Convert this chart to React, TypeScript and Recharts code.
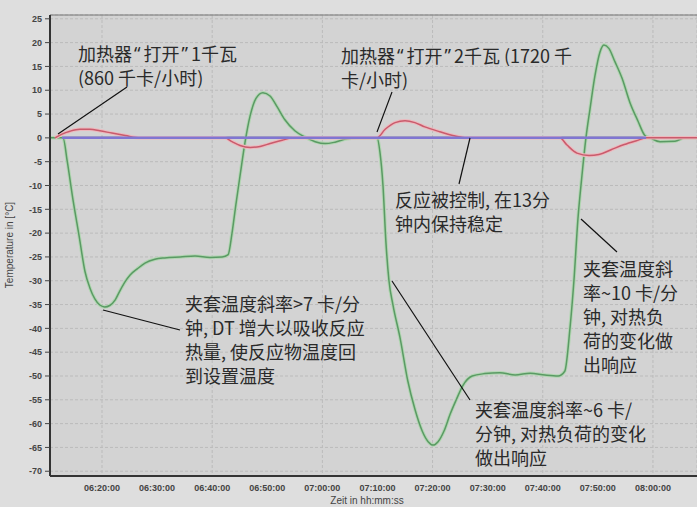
import React from 'react';
import { LineChart, Line, XAxis, YAxis, CartesianGrid, ReferenceLine } from 'recharts';

// time = minutes after 06:00, value = °C
const jacketTemp: [number, number][] = [
  [10.56, 0], [12.92, 0], [13.7, -5], [14.6, -12], [15.9, -21], [16.9, -28],
  [17.8, -31.5], [18.7, -33.8], [19.6, -35.1], [20.5, -35.5], [21.4, -35.2],
  [22.4, -34], [23.3, -32], [24.2, -30.2], [25.1, -28.8], [26.4, -27.5],
  [27.8, -26.3], [29.6, -25.5], [31.4, -25.2], [34.2, -25], [36.9, -24.8],
  [39.6, -25.1], [41.8, -25], [42.9, -24.5], [43.6, -20], [44.3, -14],
  [45.05, -8], [45.95, -1], [46.86, 4.5], [47.95, 8.3], [49.2, 9.5],
  [50.5, 8.8], [51.8, 6.5], [53.2, 3.8], [55.0, 1.5], [56.8, 0.2],
  [58.7, -0.8], [60.5, -1.2], [62.3, -0.9], [64.5, -0.2], [66.8, 0],
  [69.9, 0], [70.45, -3], [71.0, -10], [71.54, -22], [72.09, -30],
  [72.8, -35], [74.1, -42], [75.5, -51], [76.8, -57], [78.1, -61.5],
  [79.2, -63.8], [80.1, -64.5], [81.0, -63.8], [82.1, -61.5], [83.2, -58],
  [84.3, -55], [85.5, -52], [87.2, -50], [89.5, -49.5], [92.2, -49.3],
  [95.0, -49.8], [97.7, -49.4], [100.4, -49.8], [102.8, -50], [104.0, -49],
  [104.94, -40], [105.66, -30], [106.39, -17], [107.11, -8], [107.84, 0],
  [108.57, 6], [109.47, 13], [110.38, 18], [111.1, 19.5], [112.0, 18.8],
  [113.1, 16], [114.4, 12.5], [115.8, 7.5], [117.3, 3.5], [118.55, 0.5],
  [119.5, 0], [121.3, -0.8], [124.0, -0.7], [125.8, 0], [128, 0],
];

const reactorTemp: [number, number][] = [
  [11.47, 0], [12.74, 0.8], [14.19, 1.4], [16.0, 1.8], [17.8, 1.8],
  [19.6, 1.5], [21.8, 1.0], [24.2, 0.5], [26.9, 0], [30.5, 0],
  [42.3, 0], [43.6, -0.8], [45.05, -1.6], [46.9, -2.0], [48.7, -1.8],
  [50.5, -1.2], [52.7, -0.5], [54.7, 0], [69.9, 0], [71.4, 1.8],
  [73.2, 3.2], [75.0, 3.6], [76.8, 3.2], [78.6, 2.3], [81.3, 1.3],
  [84.1, 0.4], [86.2, 0], [103.1, 0], [104.4, -1.5], [106.2, -3.2],
  [108.4, -3.7], [110.2, -3.5], [112.4, -2.5], [114.8, -1.4], [117.0, -0.6],
  [118.8, 0], [128, 0],
];

const setpoint: [number, number][] = [[12.74, 0], [118.77, 0]];

const xTicks = [20, 30, 40, 50, 60, 70, 80, 90, 100, 110, 120];
const yTicks = [25, 20, 15, 10, 5, 0, -5, -10, -15, -20, -25, -30, -35, -40, -45, -50, -55, -60, -65, -70];

const toRows = (pts: [number, number][]) => pts.map(([t, v]) => ({ t, v }));

const fmtTime = (m: number) => {
  const h = 6 + Math.floor(m / 60);
  const mm = m % 60;
  return `${String(h).padStart(2, '0')}:${String(mm).padStart(2, '0')}:00`;
};

const cjk = '"Noto Sans CJK SC", "Noto Sans", sans-serif';

const notes: { x: number; y: number; lines: string[] }[] = [
  { x: 78, y: 53, lines: ['加热器“打开”1千瓦', '(860 千卡/小时)'] },
  { x: 341, y: 55, lines: ['加热器“打开”2千瓦 (1720 千', '卡/小时)'] },
  { x: 395, y: 199, lines: ['反应被控制, 在13分', '钟内保持稳定'] },
  { x: 583, y: 268, lines: ['夹套温度斜', '率~10 卡/分', '钟, 对热负', '荷的变化做', '出响应'] },
  { x: 185, y: 303, lines: ['夹套温度斜率>7 卡/分', '钟, DT 增大以吸收反应', '热量, 使反应物温度回', '到设置温度'] },
  { x: 475, y: 409, lines: ['夹套温度斜率~6 卡/', '分钟, 对热负荷的变化', '做出响应'] },
];

const leaders = [
  [58, 134, 127, 87],
  [377, 132, 392, 92],
  [470, 138, 459, 184],
  [581, 219, 617, 252],
  [103, 310, 180, 330],
  [392, 281, 470, 400],
];

// curly quotes drawn in a Latin font, with a little air around them
const renderLine = (l: string) =>
  l.split(/([“”])/).map((part, k) =>
    part === '“' || part === '”' ? (
      <tspan key={k} fontFamily='"Noto Sans", sans-serif' dx={2} letterSpacing={3}>{part}</tspan>
    ) : (
      part
    )
  );

export default function App() {
  const tickStyle = { fontSize: 9, fontWeight: 700, fill: '#444', fontFamily: 'Arial, sans-serif' };
  return (
    <div style={{ position: 'absolute', left: 0, top: 0, width: 697, height: 507, background: '#dedede', overflow: 'hidden' }}>
      <LineChart width={697} height={507} margin={{ top: 15, right: 0, bottom: 0, left: 0 }}>
        <CartesianGrid fill="#d3d3d3" stroke="#bbbbbb" strokeDasharray="3 2" />
        <XAxis
          type="number"
          dataKey="t"
          domain={[10.56, 128]}
          ticks={xTicks}
          tickFormatter={fmtTime}
          allowDataOverflow
          height={31}
          tickLine={false}
          tickSize={0}
          tickMargin={9}
          tick={tickStyle}
          axisLine={{ stroke: '#333', strokeWidth: 2 }}
        />
        <YAxis
          type="number"
          domain={[-71, 25.8]}
          ticks={yTicks}
          allowDataOverflow
          width={50}
          tickSize={5}
          tickMargin={3}
          tick={tickStyle}
          tickLine={{ stroke: '#444' }}
          axisLine={{ stroke: '#333', strokeWidth: 2 }}
          interval={0}
        />
        <ReferenceLine y={25.8} stroke="#777" strokeWidth={1} />
        <ReferenceLine y={0} stroke="#6a6a6a" strokeWidth={2} />
        <Line data={toRows(jacketTemp)} dataKey="v" type="monotone" stroke="#b2d6b2" strokeWidth={3.5} dot={false} isAnimationActive={false} />
        <Line data={toRows(jacketTemp)} dataKey="v" type="monotone" stroke="#5a9a64" strokeWidth={1.5} dot={false} isAnimationActive={false} />
        <Line data={toRows(reactorTemp)} dataKey="v" type="monotone" stroke="#edb8bd" strokeWidth={3.5} dot={false} isAnimationActive={false} />
        <Line data={toRows(reactorTemp)} dataKey="v" type="monotone" stroke="#c95b6c" strokeWidth={1.5} dot={false} isAnimationActive={false} />
        <Line data={toRows(setpoint)} dataKey="v" type="linear" stroke="#8076d2" strokeWidth={2.5} dot={false} isAnimationActive={false} />
      </LineChart>
      <svg width={697} height={507} style={{ position: 'absolute', left: 0, top: 0, pointerEvents: 'none' }}>
        <text transform="translate(13,245) rotate(-90)" textAnchor="middle" fontSize={10} fill="#444" fontFamily="Arial, sans-serif">
          Temperature in [°C]
        </text>
        <text x={367} y={504} textAnchor="middle" fontSize={10} fill="#444" fontFamily="Arial, sans-serif">
          Zeit in hh:mm:ss
        </text>
        {leaders.map(([x1, y1, x2, y2], i) => (
          <line key={i} x1={x1} y1={y1} x2={x2} y2={y2} stroke="#111" strokeWidth={1.2} />
        ))}
        {notes.map((n, i) => (
          <text key={i} fontFamily={cjk} fontSize={18} fill="#2a2a2a">
            {n.lines.map((l, j) => (
              <tspan key={j} x={n.x} y={n.y + j * 24} dominantBaseline="central">
                {renderLine(l)}
              </tspan>
            ))}
          </text>
        ))}
      </svg>
    </div>
  );
}
